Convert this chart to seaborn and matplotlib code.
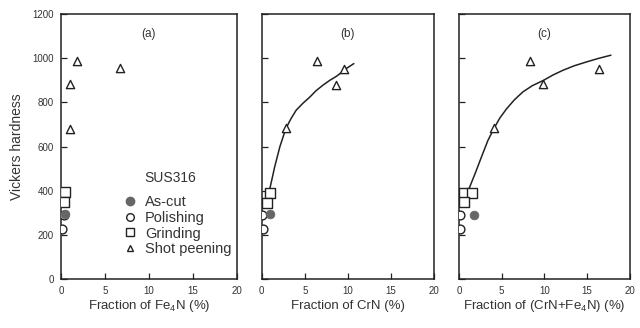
import matplotlib
matplotlib.use("Agg")
import matplotlib.pyplot as plt
import seaborn as sns
from matplotlib.lines import Line2D

sns.set_theme(style="white")
plt.rcParams['font.family'] = ['Liberation Sans', 'DejaVu Sans']
plt.rcParams['mathtext.default'] = 'regular'

# ---- data ----
panel_tags = ["(a)", "(b)", "(c)"]
xlabels = ["Fraction of Fe$_4$N (%)", "Fraction of CrN (%)", "Fraction of (CrN+Fe$_4$N) (%)"]
series_names = ["As-cut", "Polishing", "Grinding", "Shot peening"]
legend_title = "SUS316"

# Panel (a) Fe4N
ascut_a_x = [0.5];            ascut_a_y = [297]
polish_a_x = [0.3, 0.1];      polish_a_y = [290, 228]
grind_a_x = [0.5, 0.3];       grind_a_y = [395, 350]
shot_a_x = [1.8, 6.7, 1.0, 1.0]; shot_a_y = [986, 955, 882, 679]

# Panel (b) CrN
ascut_b_x = [1.0];            ascut_b_y = [297]
polish_b_x = [0.0, 0.1];      polish_b_y = [292, 228]
grind_b_x = [1.0, 0.6];       grind_b_y = [388, 345]
shot_b_x = [6.4, 9.6, 8.6, 2.8]; shot_b_y = [986, 952, 878, 683]
curve_b_x = [0.85, 1.2, 1.5, 2.1, 2.8, 3.4, 4.0, 4.8, 5.6, 6.3, 7.1, 7.9, 8.7, 9.3, 9.8, 10.7]
curve_b_y = [395, 455, 508, 599, 682, 727, 765, 797, 825, 853, 878, 900, 919, 937, 953, 976]

# Panel (c) CrN+Fe4N
ascut_c_x = [1.8];            ascut_c_y = [292]
polish_c_x = [0.1, 0.1];      polish_c_y = [292, 228]
grind_c_x = [0.6, 1.5, 0.6];  grind_c_y = [392, 388, 350]
shot_c_x = [8.3, 16.4, 9.9, 4.1]; shot_c_y = [986, 950, 882, 683]
curve_c_x = [0.9, 1.4, 1.9, 2.8, 3.4, 4.1, 4.8, 5.6, 6.5, 7.5, 8.6, 9.9, 11.0, 12.2, 13.5, 14.9, 16.3, 17.8]
curve_c_y = [380, 430, 478, 569, 628, 682, 730, 772, 812, 848, 876, 900, 924, 946, 966, 983, 999, 1014]

yticks = [0, 200, 400, 600, 800, 1000, 1200]
xticks = [0, 5, 10, 15, 20]

panels = [
    dict(ascut=(ascut_a_x, ascut_a_y), polish=(polish_a_x, polish_a_y),
         grind=(grind_a_x, grind_a_y), shot=(shot_a_x, shot_a_y), curve=None),
    dict(ascut=(ascut_b_x, ascut_b_y), polish=(polish_b_x, polish_b_y),
         grind=(grind_b_x, grind_b_y), shot=(shot_b_x, shot_b_y), curve=(curve_b_x, curve_b_y)),
    dict(ascut=(ascut_c_x, ascut_c_y), polish=(polish_c_x, polish_c_y),
         grind=(grind_c_x, grind_c_y), shot=(shot_c_x, shot_c_y), curve=(curve_c_x, curve_c_y)),
]

ink = "#222222"
txt = "#333333"
fig = plt.figure(figsize=(6.4, 3.28), dpi=100)
lefts = [0.0953, 0.409, 0.717]
widths = [0.275, 0.269, 0.267]
bottom, height = 0.149, 0.808

for i, p in enumerate(panels):
    ax = fig.add_axes([lefts[i], bottom, widths[i], height])
    if p["curve"] is not None:
        sns.lineplot(x=p["curve"][0], y=p["curve"][1], ax=ax, color=ink, lw=1.1,
                     sort=False, zorder=2)
    sns.scatterplot(x=p["polish"][0], y=p["polish"][1], ax=ax, marker="o", s=40,
                    facecolor="white", edgecolor=ink, linewidth=1.0, zorder=3)
    sns.scatterplot(x=p["ascut"][0], y=p["ascut"][1], ax=ax, marker="o", s=40,
                    color="#666666", edgecolor="#666666", linewidth=0.5, zorder=3)
    sns.scatterplot(x=p["grind"][0], y=p["grind"][1], ax=ax, marker="s", s=55,
                    facecolor="white", edgecolor=ink, linewidth=1.0, zorder=4)
    sns.scatterplot(x=p["shot"][0], y=p["shot"][1], ax=ax, marker="^", s=35,
                    facecolor="white", edgecolor=ink, linewidth=1.0, zorder=4)
    ax.set_xlim(0, 20)
    ax.set_ylim(0, 1200)
    ax.set_xticks(xticks)
    ax.set_yticks(yticks)
    ax.tick_params(bottom=True, left=True, top=False, right=False,
                   direction="in", length=4, width=0.9, colors=ink, labelsize=7,
                   pad=5)
    ax.tick_params(axis="both", labelcolor=txt)
    for s in ax.spines.values():
        s.set_color(ink)
        s.set_linewidth(1.1)
    if i == 0:
        ax.set_ylabel("Vickers hardness", fontsize=10, color=txt, labelpad=6)
    else:
        ax.set_yticklabels([])
        ax.set_ylabel("")
    ax.set_xlabel(xlabels[i], fontsize=9.5, color=txt)
    ax.xaxis.label.set_va("center")
    ax.xaxis.set_label_coords(0.5, -0.1)
    ax.text(0.5, 0.925, panel_tags[i], transform=ax.transAxes, ha="center",
            va="center", fontsize=8.5, color=txt)
    if i == 0:
        handles = [
            Line2D([], [], ls="none", marker="o", ms=6, mfc="#666666", mec="#666666"),
            Line2D([], [], ls="none", marker="o", ms=5.5, mfc="white", mec=ink),
            Line2D([], [], ls="none", marker="s", ms=5.5, mfc="white", mec=ink),
            Line2D([], [], ls="none", marker="^", ms=5, mfc="white", mec=ink),
        ]
        leg = ax.legend(handles, series_names, loc="lower left",
                        bbox_to_anchor=(0.32, 0.064), frameon=False, fontsize=10.5,
                        handlelength=1.0, handletextpad=0.5,
                        labelspacing=0.12, borderaxespad=0)
        for t in leg.get_texts():
            t.set_color(txt)
        ax.text(0.62, 0.382, legend_title, transform=ax.transAxes, ha="center",
                va="center", fontsize=10, color=txt)

fig.savefig("out.png", dpi=100, facecolor="white")
